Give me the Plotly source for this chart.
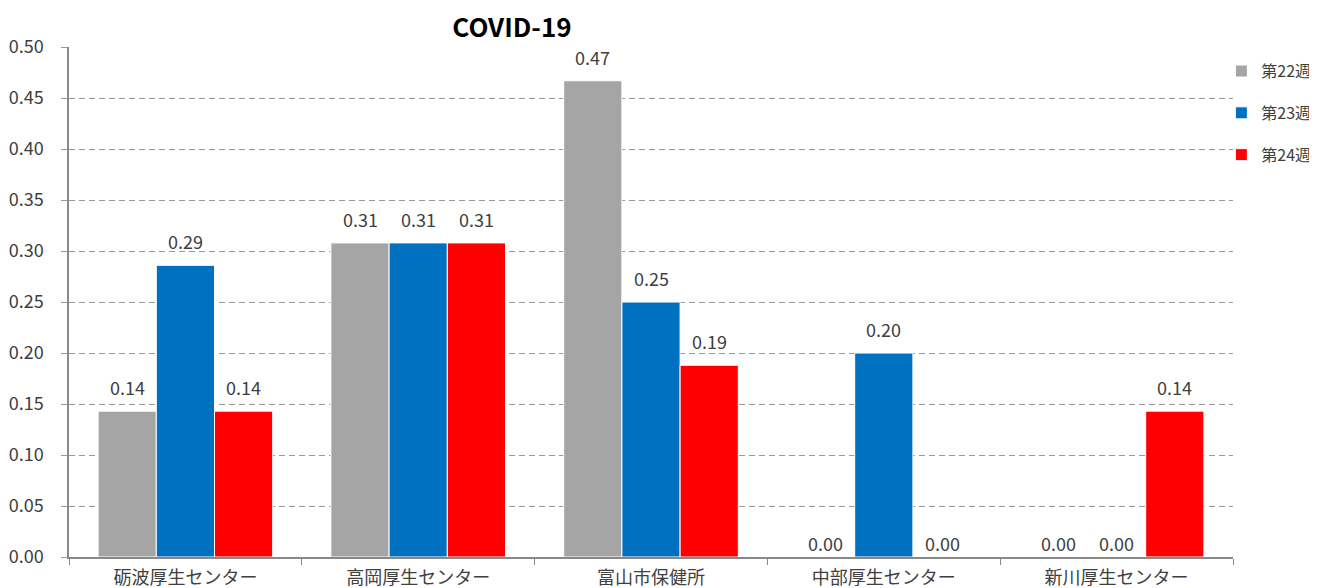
import plotly.graph_objects as go

categories = ['砺波厚生センター', '高岡厚生センター', '富山市保健所', '中部厚生センター', '新川厚生センター']
week22 = [0.143, 0.308, 0.467, 0.0, 0.0]
week23 = [0.286, 0.308, 0.250, 0.200, 0.0]
week24 = [0.143, 0.308, 0.188, 0.0, 0.143]

series = [
    ('第22週', week22, '#A5A5A5'),
    ('第23週', week23, '#0070C0'),
    ('第24週', week24, '#FF0000'),
]

FONT = 'Noto Sans CJK JP'

fig = go.Figure()

for name, vals, color in series:
    fig.add_trace(
        go.Bar(
            x=categories, y=vals, name=name, legendgroup=name,
            marker=dict(color=color, line=dict(color='white', width=1)),
        )
    )

# data labels above each bar
annotations = []
for i, (name, vals, color) in enumerate(series):
    for cat, v in zip(categories, vals):
        annotations.append(dict(
            x=cat, y=v, xref='x', yref='y', text=f'{v:.2f}', showarrow=False,
            xshift=(i - 1) * 58.2, yshift=24 if v > 0 else 14,
            yanchor='middle', font=dict(size=18, color='#404040', family=FONT),
        ))

# page body has an 8px margin, so the figure is a bit smaller than the window
fig.update_layout(
    width=1309, height=580,
    margin=dict(l=61, r=84, t=39, b=31, autoexpand=False),
    paper_bgcolor='white', plot_bgcolor='white',
    font=dict(family=FONT, size=18, color='#404040'),
    title=dict(text='<b>COVID-19</b>', x=(512 - 69) / 1164, xref='paper', xanchor='center',
               y=1 - 20 / 580, yanchor='middle', font=dict(size=26, color='black', family=FONT)),
    bargap=0.25, bargroupgap=0,
    annotations=annotations,
    legend=dict(x=0.99, y=0.986, xanchor='left', yanchor='top', traceorder='grouped',
                tracegroupgap=18, font=dict(size=16, color='#404040'), bgcolor='rgba(0,0,0,0)'),
    yaxis=dict(range=[0, 0.5001], dtick=0.05, tickformat='.2f', showgrid=True, gridcolor='#9A9A9A',
               griddash='6px,4px', gridwidth=1.3, showline=True, linecolor='#898989', linewidth=1.5,
               ticks='outside', ticklen=6, tickcolor='#9A9A9A', zeroline=False,
               ticklabelstandoff=14, tickfont=dict(size=18, color='#404040')),
    xaxis=dict(showline=True, linecolor='#898989', linewidth=1.5, ticks='outside', ticklen=6,
               tickcolor='#898989', tickson='boundaries', showgrid=False,
               ticklabelstandoff=4, tickfont=dict(size=18, color='#404040')),
)

fig.write_html('out.html')
